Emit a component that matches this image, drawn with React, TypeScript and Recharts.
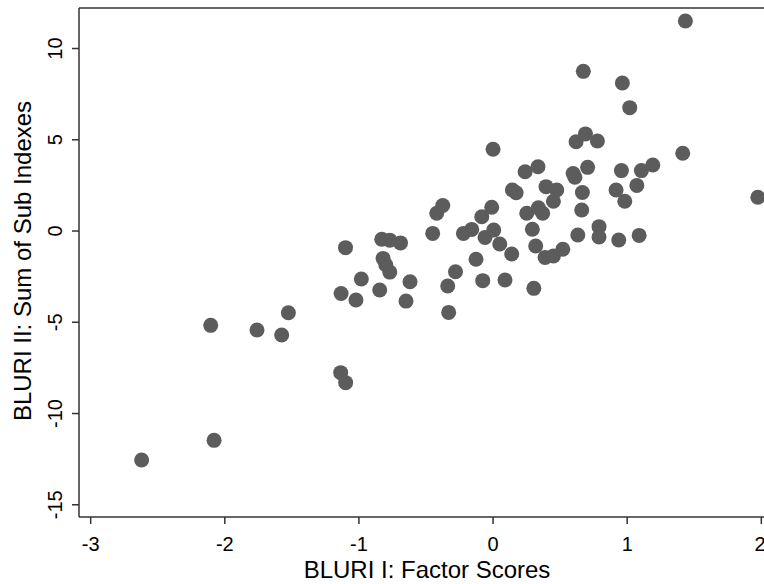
import React from 'react';
import { ScatterChart, Scatter, XAxis, YAxis, ReferenceLine } from 'recharts';

// BLURI I (factor scores) vs BLURI II (sum of sub indexes)
const factorScores = [
  -2.62, -2.08, -2.105, -1.76, -1.576, -1.526, -1.136, -1.099, -1.1, -1.133,
  -1.022, -0.982, -0.845, -0.83, -0.77, -0.69, -0.82, -0.8, -0.77, -0.619,
  -0.649, -0.45, -0.42, -0.375, -0.28, -0.338, -0.331, -0.221, -0.159, -0.084,
  -0.01, -0.06, 0.005, 0.05, 0.139, -0.127, -0.077, 0.089, 0.304, 0.0,
  0.144, 0.172, 0.251, 0.338, 0.37, 0.293, 0.318, 0.388, 0.45, 0.52,
  0.395, 0.475, 0.45, 0.239, 0.335, 0.597, 0.61, 0.705, 0.666, 0.661,
  0.632, 0.79, 0.79, 0.937, 1.089, 0.957, 1.106, 1.191, 1.072, 0.917,
  0.982, 1.974, 1.414, 0.619, 0.689, 0.778, 1.434, 0.673, 0.964, 1.019,
];
const sumOfSubIndexes = [
  -12.55, -11.47, -5.17, -5.42, -5.7, -4.48, -7.76, -8.31, -0.91, -3.42,
  -3.78, -2.63, -3.23, -0.45, -0.5, -0.65, -1.5, -1.85, -2.25, -2.78,
  -3.84, -0.13, 0.97, 1.4, -2.23, -3.01, -4.46, -0.13, 0.09, 0.78,
  1.3, -0.35, 0.05, -0.71, -1.26, -1.55, -2.72, -2.68, -3.14, 4.48,
  2.25, 2.1, 0.97, 1.27, 0.97, 0.1, -0.82, -1.45, -1.37, -1.0,
  2.43, 2.25, 1.63, 3.25, 3.52, 3.15, 2.95, 3.49, 2.11, 1.15,
  -0.22, 0.24, -0.33, -0.49, -0.24, 3.31, 3.31, 3.62, 2.5, 2.25,
  1.63, 1.85, 4.26, 4.89, 5.32, 4.93, 11.51, 8.75, 8.11, 6.76,
];
const xTicks = [-3, -2, -1, 0, 1, 2];
const yTicks = [-15, -10, -5, 0, 5, 10];

const xDomain = [-3.087, 2.02];
const yDomain = [-15.67, 12.22];

const points = factorScores.map((x, i) => ({ x, y: sumOfSubIndexes[i] }));

const FONT = '"Liberation Sans", Arial, Helvetica, sans-serif';
const AXIS = '#333333';
const DOT = '#5c5c5c';

const XTick = (props: any) => {
  const { x, y, payload } = props;
  return (
    <text x={x} y={y} dy={25} textAnchor="middle" fontSize={20} fontFamily={FONT} fill="#000">
      {payload.value}
    </text>
  );
};

const YTick = (props: any) => {
  const { x, y, payload } = props;
  return (
    <text
      transform={`translate(${x - 8},${y}) rotate(-90)`}
      textAnchor="middle"
      fontSize={20}
      fontFamily={FONT}
      fill="#000"
    >
      {payload.value}
    </text>
  );
};

const Dot = (props: any) => <circle cx={props.cx} cy={props.cy} r={7.5} fill={DOT} />;

const App: React.FC = () => {
  return (
    <div style={{ position: 'absolute', left: 0, top: 0, width: 764, height: 584, background: '#fff' }}>
      <ScatterChart width={764} height={584} margin={{ top: 8, right: 0, bottom: 0, left: 0 }}>
        <XAxis
          type="number"
          dataKey="x"
          domain={xDomain}
          ticks={xTicks}
          allowDataOverflow
          height={67}
          tickSize={7}
          tickMargin={2}
          stroke={AXIS}
          strokeWidth={1.5}
          tick={<XTick />}
          label={{
            content: () => (
              <text x={427} y={578} textAnchor="middle" fontSize={24} fontFamily={FONT} fill="#000">
                BLURI I: Factor Scores
              </text>
            ),
          }}
        />
        <YAxis
          type="number"
          dataKey="y"
          domain={yDomain}
          ticks={yTicks}
          allowDataOverflow
          width={79}
          tickSize={7}
          tickMargin={2}
          stroke={AXIS}
          strokeWidth={1.5}
          tick={<YTick />}
          label={{
            content: () => (
              <text
                transform="translate(31,261) rotate(-90)"
                textAnchor="middle"
                fontSize={24}
                fontFamily={FONT}
                fill="#000"
              >
                BLURI II: Sum of Sub Indexes
              </text>
            ),
          }}
        />
        <ReferenceLine y={yDomain[1]} stroke={AXIS} strokeWidth={1.5} />
        <Scatter data={points} shape={<Dot />} isAnimationActive={false} />
      </ScatterChart>
    </div>
  );
};

export default App;
